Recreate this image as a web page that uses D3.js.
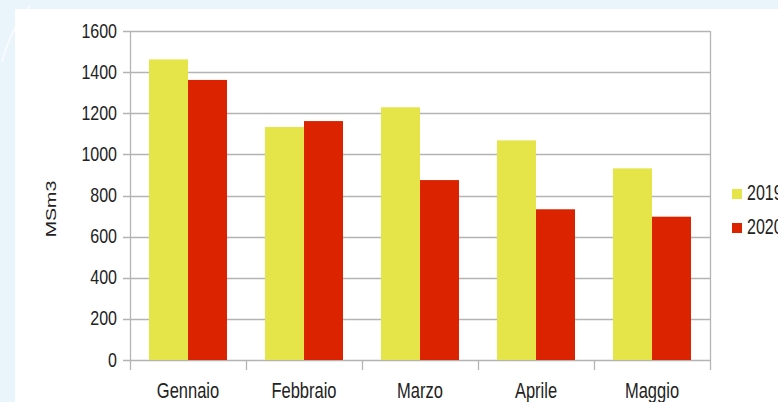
<!DOCTYPE html>
<html>
<head>
<meta charset="utf-8">
<script src="https://cdn.jsdelivr.net/npm/d3@7"></script>
<style>
  html, body { margin: 0; padding: 0; background: #e9f4fb; }
  svg { display: block; }
  text { font-family: "Liberation Sans", Arial, sans-serif; fill: #222; }
</style>
</head>
<body>
<svg id="chart" width="778" height="402"></svg>
<script>
// Monthly volumes (MSm3), 2019 vs 2020
const months = ["Gennaio", "Febbraio", "Marzo", "Aprile", "Maggio"];
const years = ["2019", "2020"];
const values2019 = [1462, 1133, 1229, 1068, 932];
const values2020 = [1362, 1162, 875, 733, 697];
const yTicks = [0, 200, 400, 600, 800, 1000, 1200, 1400, 1600];
const colors = ["#e5e54a", "#dc2300"];

const svg = d3.select("#chart");
const W = 778, H = 402;
const plot = { left: 130, right: 710, top: 31, bottom: 360 };

// page background and white card
svg.append("rect").attr("width", W).attr("height", H).attr("fill", "#e9f4fb");
svg.append("path")
  .attr("d", "M2,62 Q10,30 30,6")
  .attr("fill", "none").attr("stroke", "#f7fbfe").attr("stroke-width", 2);
svg.append("rect").attr("x", 15).attr("y", 9).attr("width", W - 15).attr("height", H - 9).attr("fill", "#ffffff");

const x = d3.scaleBand().domain(months).range([plot.left, plot.right]).padding(0);
const xs = d3.scaleBand().domain(years).range([0, x.bandwidth()]).paddingInner(0).paddingOuter(0.487);
const y = d3.scaleLinear().domain([0, 1600]).range([plot.bottom, plot.top]);

const grid = "#b4b4b4";

// horizontal gridlines
svg.append("g").selectAll("line").data(yTicks).join("line")
  .attr("x1", plot.left - 7).attr("x2", plot.right)
  .attr("y1", d => Math.round(y(d)) + 0.5).attr("y2", d => Math.round(y(d)) + 0.5)
  .attr("stroke", grid).attr("stroke-width", 1.3);

// bars
const rows = months.map((m, i) => ({ month: m, vals: [values2019[i], values2020[i]] }));
svg.append("g").selectAll("g").data(rows).join("g")
  .attr("transform", d => `translate(${x(d.month)},0)`)
  .selectAll("rect").data(d => d.vals.map((v, j) => ({ year: years[j], v, j }))).join("rect")
  .attr("x", d => xs(d.year)).attr("width", xs.bandwidth())
  .attr("y", d => y(d.v)).attr("height", d => y(0) - y(d.v))
  .attr("fill", d => colors[d.j]);

// vertical axis lines and category ticks
const xBounds = [plot.left].concat(months.map(m => x(m) + x.bandwidth()));
svg.append("g").selectAll("line").data(xBounds).join("line")
  .attr("x1", d => d + 0.5).attr("x2", d => d + 0.5)
  .attr("y1", (d, i) => (i === 0 || i === xBounds.length - 1) ? plot.top : plot.bottom)
  .attr("y2", plot.bottom + 10)
  .attr("stroke", grid).attr("stroke-width", 1.3);

// y tick labels
svg.append("g").selectAll("text").data(yTicks).join("text")
  .attr("transform", d => `translate(117,${y(d) + 6.5}) scale(1,1.25)`)
  .attr("text-anchor", "end").attr("font-size", 16)
  .text(d => d);

// category labels
svg.append("g").selectAll("text").data(months).join("text")
  .attr("transform", d => `translate(${x(d) + x.bandwidth() / 2},398) scale(1,1.35)`)
  .attr("text-anchor", "middle").attr("font-size", 16.5)
  .text(d => d);

// y axis title
svg.append("text")
  .attr("transform", "translate(56,209) rotate(-90) scale(1.4,1)")
  .attr("text-anchor", "middle").attr("font-size", 14)
  .text("MSm3");

// legend
const legend = svg.append("g").selectAll("g").data(years).join("g")
  .attr("transform", (d, i) => `translate(732,${189 + i * 34})`);
legend.append("rect").attr("width", 10).attr("height", 10).attr("fill", (d, i) => colors[i]);
legend.append("text")
  .attr("transform", "translate(15,11) scale(1,1.4)")
  .attr("font-size", 16)
  .text(d => d);
</script>
</body>
</html>
